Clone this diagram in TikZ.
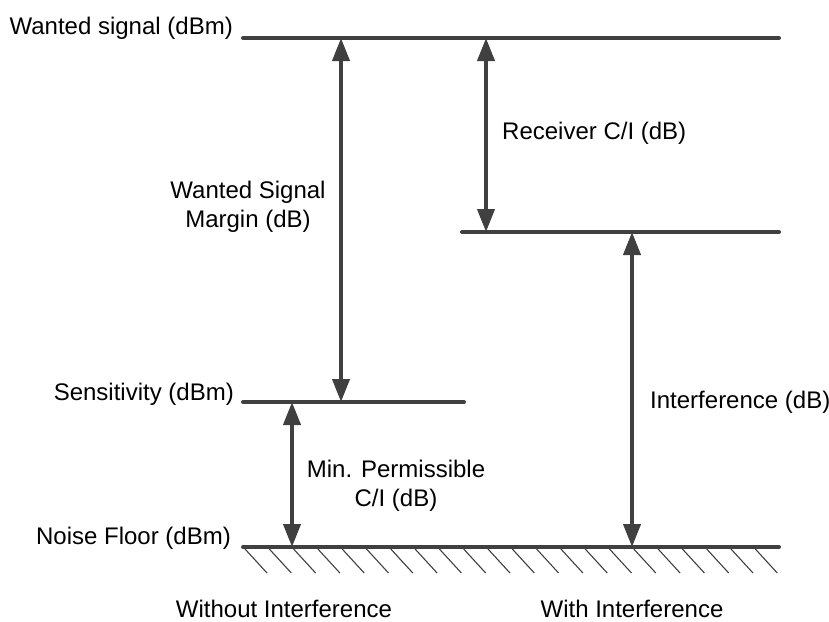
\documentclass[tikz,border=0pt]{standalone}
\usepackage{fontspec}
\setmainfont{Liberation Sans}
\usetikzlibrary{arrows.meta}
\definecolor{linegray}{RGB}{64,64,64}
\tikzstyle{level} = [draw=linegray, line width=4pt, line cap=round]
\tikzstyle{dimarrow} = [draw=linegray, line width=4pt, {Triangle[length=23pt,width=17pt]}-{Triangle[length=23pt,width=17pt]}]
\tikzstyle{hatch} = [draw=linegray, line width=1.1pt]
\tikzstyle{levellabel} = [anchor=base east, inner sep=0pt, font=\fontsize{24}{29}\selectfont]
\tikzstyle{dimlabel} = [align=center, inner sep=0pt, font=\fontsize{24}{29}\selectfont]

\begin{document}
\begin{tikzpicture}[x=1pt, y=-1pt]
  \useasboundingbox (0,0) rectangle (829,621);

  % signal levels
  \coordinate (WSL) at (243,38);
  \coordinate (WSR) at (779,38);
  \coordinate (ILL) at (462,232);
  \coordinate (ILR) at (779,232);
  \coordinate (SEL) at (243,402);
  \coordinate (SER) at (464,402);
  \coordinate (NFL) at (243,547);
  \coordinate (NFR) at (779,547);

  % arrow ends
  \coordinate (WSM) at (341,38);
  \coordinate (SEM) at (341,402);
  \coordinate (WSR2) at (486,38);
  \coordinate (ILT) at (486,232);
  \coordinate (SEP) at (292,402);
  \coordinate (NFP) at (292,547);
  \coordinate (ILB) at (632,232);
  \coordinate (NFI) at (632,547);

  % ground hatch
  \foreach \i in {0,...,21}
    \draw [hatch] ({245+24.3*\i},549) -- ++(22,24);

  \draw [level] (WSL) -- (WSR);
  \draw [level] (ILL) -- (ILR);
  \draw [level] (SEL) -- (SER);
  \draw [level] (NFL) -- (NFR);

  \draw [dimarrow] (WSM) -- (SEM);
  \draw [dimarrow] (WSR2) -- (ILT);
  \draw [dimarrow] (SEP) -- (NFP);
  \draw [dimarrow] (ILB) -- (NFI);

  \node (WSTXT) [levellabel] at (233,34) {Wanted signal (dBm)};
  \node (SETXT) [levellabel] at (234,400) {Sensitivity (dBm)};
  \node (NFTXT) [levellabel] at (231,544) {Noise Floor (dBm)};
  \node (WSMTXT) [dimlabel] at (248,207) {Wanted Signal\\Margin (dB)};
  \node (RCITXT) [dimlabel, anchor=west] at (502,133) {Receiver C/I (dB)};
  \node (INTTXT) [dimlabel, anchor=west] at (650,402) {Interference (dB)};
  \node (MPCTXT) [dimlabel] at (396,486) {Min. Permissible\\C/I (dB)};
  \node (WOTXT) [dimlabel] at (284,609) {Without Interference};
  \node (WITXT) [dimlabel] at (632,609) {With Interference};
\end{tikzpicture}
\end{document}
